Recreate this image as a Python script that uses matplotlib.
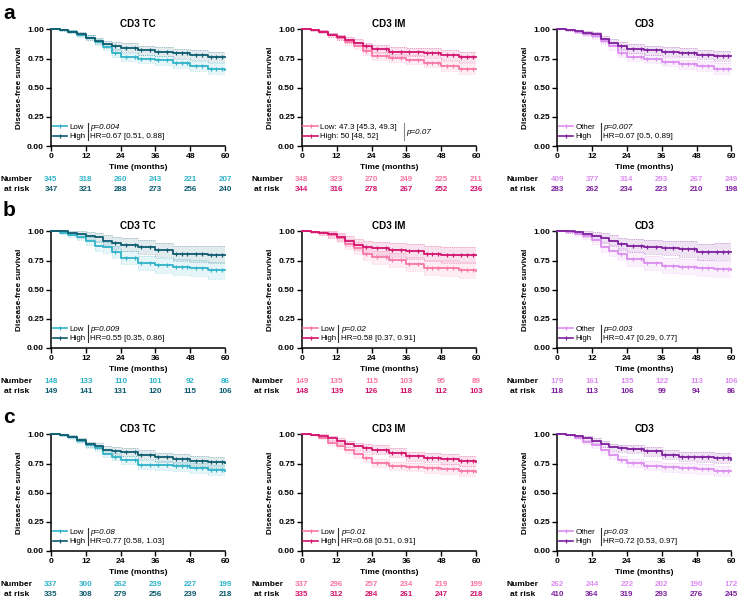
import numpy as np
import matplotlib
matplotlib.use('Agg')
import matplotlib.pyplot as plt
from matplotlib.lines import Line2D
from matplotlib.transforms import blended_transform_factory

plt.rcParams['font.family'] = ['Liberation Sans', 'DejaVu Sans']

months = [0, 3, 6, 9, 12, 15, 18, 21, 24, 30, 36, 42, 48, 54, 60]
risk_months = [0, 12, 24, 36, 48, 60]
censor_months = [22, 26, 29, 31, 34, 37, 40, 43, 45, 47, 50, 52, 55, 57, 59]

# row a
a_tc_low = [1.0, 0.995, 0.98, 0.955, 0.93, 0.89, 0.85, 0.80, 0.765, 0.745, 0.735, 0.71, 0.685, 0.665, 0.655]
a_tc_high = [1.0, 0.995, 0.98, 0.96, 0.93, 0.90, 0.875, 0.86, 0.845, 0.82, 0.81, 0.795, 0.78, 0.765, 0.76]
a_im_low = [1.0, 0.995, 0.98, 0.955, 0.93, 0.895, 0.86, 0.815, 0.775, 0.755, 0.74, 0.715, 0.685, 0.665, 0.66]
a_im_high = [1.0, 0.995, 0.98, 0.955, 0.934, 0.91, 0.885, 0.855, 0.83, 0.81, 0.807, 0.80, 0.78, 0.765, 0.765]
a_cd3_other = [1.0, 0.995, 0.98, 0.96, 0.94, 0.90, 0.855, 0.80, 0.765, 0.745, 0.725, 0.70, 0.685, 0.665, 0.66]
a_cd3_high = [1.0, 0.995, 0.985, 0.97, 0.957, 0.92, 0.885, 0.856, 0.836, 0.82, 0.81, 0.80, 0.785, 0.77, 0.77]
ci_a = [0, 0.005, 0.012, 0.018, 0.022, 0.026, 0.03, 0.033, 0.035, 0.037, 0.038, 0.04, 0.042, 0.044, 0.045]

# row b
b_tc_low = [1.0, 0.99, 0.97, 0.95, 0.92, 0.876, 0.862, 0.82, 0.776, 0.733, 0.71, 0.695, 0.684, 0.667, 0.667]
b_tc_high = [1.0, 1.0, 0.99, 0.975, 0.963, 0.948, 0.92, 0.90, 0.885, 0.862, 0.84, 0.81, 0.805, 0.80, 0.80]
b_im_low = [1.0, 0.995, 0.985, 0.97, 0.94, 0.89, 0.857, 0.806, 0.777, 0.754, 0.72, 0.69, 0.686, 0.669, 0.663]
b_im_high = [1.0, 0.995, 0.99, 0.975, 0.955, 0.92, 0.886, 0.865, 0.854, 0.84, 0.829, 0.81, 0.797, 0.797, 0.797]
b_cd3_other = [1.0, 0.995, 0.98, 0.96, 0.93, 0.863, 0.834, 0.806, 0.763, 0.726, 0.706, 0.697, 0.686, 0.677, 0.669]
b_cd3_high = [1.0, 1.0, 0.995, 0.98, 0.963, 0.94, 0.92, 0.895, 0.877, 0.863, 0.857, 0.849, 0.825, 0.825, 0.825]
ci_b = [0, 0.01, 0.02, 0.028, 0.035, 0.042, 0.048, 0.052, 0.056, 0.06, 0.063, 0.066, 0.069, 0.072, 0.075]

# row c
c_tc_low = [1.0, 0.995, 0.975, 0.945, 0.905, 0.88, 0.833, 0.81, 0.784, 0.74, 0.735, 0.726, 0.71, 0.697, 0.69]
c_tc_high = [1.0, 0.995, 0.98, 0.955, 0.914, 0.90, 0.87, 0.86, 0.85, 0.827, 0.804, 0.79, 0.775, 0.76, 0.755]
c_im_low = [1.0, 0.995, 0.97, 0.93, 0.90, 0.863, 0.829, 0.80, 0.757, 0.729, 0.72, 0.709, 0.70, 0.686, 0.68]
c_im_high = [1.0, 0.998, 0.99, 0.965, 0.943, 0.92, 0.90, 0.885, 0.87, 0.843, 0.814, 0.80, 0.786, 0.77, 0.766]
c_cd3_other = [1.0, 0.995, 0.97, 0.935, 0.905, 0.87, 0.82, 0.784, 0.755, 0.732, 0.718, 0.712, 0.70, 0.689, 0.683]
c_cd3_high = [1.0, 0.998, 0.985, 0.965, 0.943, 0.92, 0.89, 0.88, 0.876, 0.856, 0.827, 0.81, 0.804, 0.798, 0.784]
ci_c = [0, 0.005, 0.012, 0.018, 0.022, 0.026, 0.03, 0.033, 0.035, 0.037, 0.038, 0.04, 0.042, 0.044, 0.045]

# numbers at risk
a_tc_risk = ([345, 318, 260, 243, 221, 207], [347, 321, 288, 273, 256, 240])
a_im_risk = ([348, 323, 270, 249, 225, 211], [344, 316, 278, 267, 252, 236])
a_cd3_risk = ([409, 377, 314, 293, 267, 249], [283, 262, 234, 223, 210, 198])
b_tc_risk = ([148, 133, 110, 101, 92, 86], [149, 141, 131, 120, 115, 106])
b_im_risk = ([149, 135, 115, 103, 95, 89], [148, 139, 126, 118, 112, 103])
b_cd3_risk = ([179, 161, 135, 122, 113, 106], [118, 113, 106, 99, 94, 86])
c_tc_risk = ([337, 300, 262, 239, 227, 199], [335, 308, 279, 256, 239, 218])
c_im_risk = ([337, 296, 257, 234, 219, 199], [335, 312, 284, 261, 247, 218])
c_cd3_risk = ([262, 244, 222, 202, 190, 172], [410, 364, 319, 293, 276, 245])

titles = ['CD3 TC', 'CD3 IM', 'CD3']
group_names = [('Low', 'High'), ('Low', 'High'), ('Other', 'High')]
colors = [('#2fb3c9', '#0d5b6e'), ('#f877a6', '#d3136d'), ('#dc8df0', '#7d1f9e')]
p_values = [['p=0.004', 'p=0.07', 'p=0.007'],
            ['p=0.009', 'p=0.02', 'p=0.003'],
            ['p=0.08', 'p=0.01', 'p=0.03']]
hr_texts = [['HR=0.67 [0.51, 0.88]', None, 'HR=0.67 [0.5, 0.89]'],
            ['HR=0.55 [0.35, 0.86]', 'HR=0.58 [0.37, 0.91]', 'HR=0.47 [0.29, 0.77]'],
            ['HR=0.77 [0.58, 1.03]', 'HR=0.68 [0.51, 0.91]', 'HR=0.72 [0.53, 0.97]']]
a_im_labels = ('Low: 47.3 [45.3, 49.3]', 'High: 50 [48, 52]')

curves = [[(a_tc_low, a_tc_high), (a_im_low, a_im_high), (a_cd3_other, a_cd3_high)],
          [(b_tc_low, b_tc_high), (b_im_low, b_im_high), (b_cd3_other, b_cd3_high)],
          [(c_tc_low, c_tc_high), (c_im_low, c_im_high), (c_cd3_other, c_cd3_high)]]
risks = [[a_tc_risk, a_im_risk, a_cd3_risk],
         [b_tc_risk, b_im_risk, b_cd3_risk],
         [c_tc_risk, c_im_risk, c_cd3_risk]]
cis = [ci_a, ci_b, ci_c]
row_letters = ['a', 'b', 'c']

fig = plt.figure(figsize=(7.38, 6.01), dpi=100)

lefts = [0.0691, 0.409, 0.755]
bottoms = [0.757, 0.421, 0.0832]
width, height = 0.236, 0.194
letter_y = [0.978, 0.650, 0.306]

t = np.array(months, dtype=float)
FS = 5.8


def step_value(surv, x):
    idx = np.searchsorted(t, x, side='right') - 1
    return np.asarray(surv)[idx]


for r in range(3):
    fig.text(0.004, letter_y[r], row_letters[r], fontsize=15, fontweight='bold', va='center', ha='left')
    ci = np.array(cis[r])
    for c in range(3):
        ax = fig.add_axes([lefts[c], bottoms[r], width, height])
        handles = []
        for g in range(2):
            s = np.array(curves[r][c][g])
            col = colors[c][g]
            lo = np.clip(s - ci, 0, 1)
            hi = np.clip(s + ci, 0, 1)
            ax.fill_between(t, lo, hi, step='post', color=col, alpha=0.12, lw=0)
            ax.step(t, lo, where='post', color=col, lw=0.5, ls=':', alpha=0.6)
            ax.step(t, hi, where='post', color=col, lw=0.5, ls=':', alpha=0.6)
            ax.step(t, s, where='post', color=col, lw=1.3, clip_on=False, zorder=3)
            cm = np.array(censor_months, dtype=float)
            ax.plot(cm, step_value(s, cm), ls='none', marker='|', ms=3, mew=0.9, color=col, zorder=4)
            handles.append(Line2D([], [], color=col, lw=1.2, marker='|', ms=3.5, mew=0.9))

        ax.set_xlim(0, 60)
        ax.set_ylim(0, 1)
        ax.set_xticks(risk_months)
        ax.set_yticks([0, 0.25, 0.5, 0.75, 1.0])
        ax.set_yticklabels(['0.00', '0.25', '0.50', '0.75', '1.00'])
        for sp in ['top', 'right']:
            ax.spines[sp].set_visible(False)
        for sp in ['left', 'bottom']:
            ax.spines[sp].set_linewidth(1.1)
        ax.tick_params(length=3.5, width=1, labelsize=6.1, pad=1.5)
        for lab in ax.get_xticklabels() + ax.get_yticklabels():
            lab.set_fontweight('bold')
        ax.set_title(titles[c], fontsize=7.1, fontweight='bold', pad=2)
        ax.set_ylabel('Disease-free survival', fontsize=5.9, fontweight='bold', labelpad=3)
        ax.set_xlabel('Time (months)', fontsize=6.0, fontweight='bold', labelpad=3)

        # legend and stats
        labels = group_names[c]
        sep_x = 0.21 if c < 2 else 0.25
        if r == 0 and c == 1:
            labels = a_im_labels
            sep_x = 0.585
        ax.legend(handles, labels, loc='lower left', bbox_to_anchor=(0.0, 0.035), fontsize=5.7,
                  frameon=False, handlelength=1.8, handletextpad=0.35, labelspacing=0.2,
                  borderpad=0.2, borderaxespad=0)
        sep_col = '#888888' if (r == 0 and c == 1) else '#333333'
        ax.plot([sep_x, sep_x], [0.05, 0.2], transform=ax.transAxes, color=sep_col, lw=0.8, clip_on=False)
        hr = hr_texts[r][c]
        if hr is None:
            ax.text(sep_x + 0.015, 0.12, p_values[r][c], transform=ax.transAxes, fontsize=FS,
                    style='italic', va='center', ha='left')
        else:
            ax.text(sep_x + 0.015, 0.16, p_values[r][c], transform=ax.transAxes, fontsize=FS,
                    style='italic', va='center', ha='left')
            ax.text(sep_x + 0.015, 0.085, hr, transform=ax.transAxes, fontsize=FS,
                    va='center', ha='left')

        # number at risk table
        trans = blended_transform_factory(ax.transData, ax.transAxes)
        ax.text(-0.2, -0.29, 'Number', transform=ax.transAxes, fontsize=6.0, fontweight='bold',
                ha='center', va='center')
        ax.text(-0.2, -0.37, 'at risk', transform=ax.transAxes, fontsize=6.0, fontweight='bold',
                ha='center', va='center')
        for g, yy in enumerate([-0.29, -0.37]):
            for m, n in zip(risk_months, risks[r][c][g]):
                ax.text(m, yy, str(n), transform=trans, fontsize=5.8, fontweight='bold',
                        color=colors[c][g], ha='center', va='center')

fig.savefig('out.png', dpi=100)
